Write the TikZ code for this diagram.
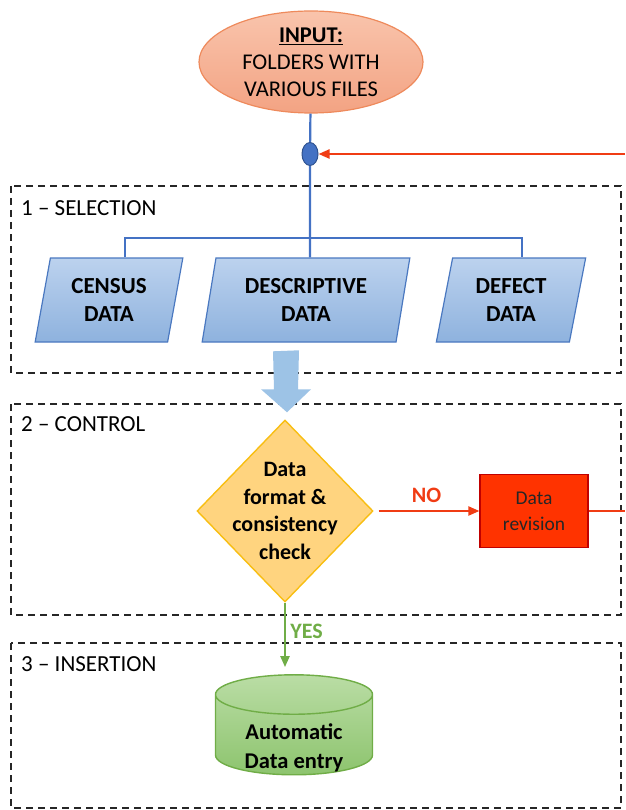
\documentclass[tikz,border=0pt]{standalone}
\usepackage{fontspec}
\setmainfont{Carlito}
\usetikzlibrary{arrows.meta, shapes.geometric, calc, positioning}

\definecolor{lineblue}{HTML}{4472C4}
\definecolor{juncborder}{HTML}{2F528F}
\definecolor{filetop}{HTML}{BCD2EE}
\definecolor{filebot}{HTML}{8EB2DE}
\definecolor{fileborder}{HTML}{4A78C0}
\definecolor{passblue}{HTML}{9DC3E6}
\definecolor{inputtop}{HTML}{F9C4AC}
\definecolor{inputbot}{HTML}{F3A383}
\definecolor{inputborder}{HTML}{EE8A5C}
\definecolor{checkfill}{HTML}{FFD47F}
\definecolor{checkborder}{HTML}{F8BE12}
\definecolor{loopred}{HTML}{F03C14}
\definecolor{revfill}{HTML}{FF3300}
\definecolor{revborder}{HTML}{C00000}
\definecolor{yesgreen}{HTML}{70AD47}
\definecolor{storetop}{HTML}{BADDA5}
\definecolor{storebot}{HTML}{8DC46E}

\begin{document}
\begin{tikzpicture}[x=1pt, y=-1pt,
		stage/.style={draw=black!85, line width=1.4pt, dash pattern=on 7pt off 5pt},
		stagetitle/.style={anchor=west, inner sep=0pt, font=\fontsize{23}{27}\selectfont},
		source/.style={ellipse, draw=inputborder, line width=1.2pt, top color=inputtop, bottom color=inputbot, minimum width=224pt, minimum height=102pt, inner sep=-12pt, align=center, font=\fontsize{22.5}{27}\selectfont},
		junction/.style={ellipse, draw=juncborder, line width=1pt, fill=lineblue, minimum width=16pt, minimum height=23pt, inner sep=0pt},
		datafile/.style={trapezium, trapezium left angle=76, trapezium right angle=104, trapezium stretches=true, draw=fileborder, line width=1.2pt, top color=filetop, bottom color=filebot, minimum height=84pt, inner sep=-4pt, align=center, font=\fontsize{23}{28}\selectfont\bfseries},
		check/.style={diamond, draw=checkborder, line width=1.4pt, fill=checkfill, minimum width=176pt, minimum height=182pt, inner sep=-30pt, align=center, font=\fontsize{22}{27.5}\selectfont\bfseries},
		revision/.style={rectangle, draw=revborder, line width=1.2pt, fill=revfill, minimum width=108pt, minimum height=73pt, inner sep=0pt, align=center, text=black!85, font=\fontsize{19.5}{26}\selectfont},
		storage/.style={cylinder, shape border rotate=90, aspect=0.4, draw=yesgreen, line width=1.4pt, top color=storetop, bottom color=storebot, minimum width=157pt, minimum height=100pt, inner sep=0pt, font=\fontsize{22.5}{29}\selectfont\bfseries},
		storetext/.style={align=center, inner sep=0pt, font=\fontsize{22.5}{29}\selectfont\bfseries},
		blueline/.style={draw=lineblue, line width=2.2pt},
		redflow/.style={draw=loopred, line width=2.2pt},
		yesflow/.style={draw=yesgreen, line width=2.2pt}
	]
	\useasboundingbox (0,0) rectangle (625,810);

	% Stages
	\draw[stage] (11,186) rectangle (621,373);
	\draw[stage] (11,404) rectangle (621,615);
	\draw[stage] (11,643) rectangle (621,808);
	\node[stagetitle] (t1) at (21,208) {1 – SELECTION};
	\node[stagetitle] (t2) at (21,424) {2 – CONTROL};
	\node[stagetitle] (t3) at (21,664) {3 – INSERTION};

	% Input
	\node[source] (input) at (311,62) {\underline{\textbf{INPUT:}}\\FOLDERS WITH\\VARIOUS FILES};
	\node[junction] (junc) at (310,154) {};

	% Selection
	\node[datafile, minimum width=149pt] (census) at (109,300) {CENSUS\\DATA};
	\node[datafile, minimum width=208pt] (descr) at (306,300) {DESCRIPTIVE\\DATA};
	\node[datafile, minimum width=150pt] (defect) at (511,300) {DEFECT\\DATA};
	\coordinate (split) at (310,238);
	\draw[blueline] (input) -- (junc) -- (junc |- descr.north);
	\draw[blueline] ([xshift=16pt]census.north) |- (split) -| ([xshift=11pt]defect.north);

	% Control
	\node[check] (check) at (285,511) {Data\\format \&\\consistency\\check};
	\fill[passblue] ($(check.north)+(-12,-68)$) -- ++(26,-1) -- ++(-1,39) -- ++(13,0)
		-- ($(check.north)+(2,-7)$) -- ($(check.north)+(-24,-30)$) -- ++(13,0) -- cycle;
	\node[revision] (rev) at (534,511) {Data\\revision};
	\draw[redflow, -{Triangle[length=11pt, width=9pt]}, shorten <=5pt] (check) -- node[above=4pt, text=loopred, font=\fontsize{22}{26}\selectfont\bfseries] {NO} (rev);
	\coordinate (loopout) at (625,511);
	\coordinate (loopin) at (625,154);
	\draw[redflow] (rev) -- (loopout);
	\draw[redflow, -{Triangle[length=11pt, width=9pt]}] (loopin) -- (junc);

	% Insertion
	\node[storage] (store) at (294,735) {\phantom{Data entry}};
	\node[storetext] (storetxt) at (294,748) {Automatic\\Data entry};
	\draw[yesflow, -{Triangle[length=11pt, width=9pt]}, shorten >=7pt] (check) -- node[pos=0.4, right=1pt, text=yesgreen, font=\fontsize{22}{26}\selectfont\bfseries] {YES} (check |- store.north);
\end{tikzpicture}
\end{document}
